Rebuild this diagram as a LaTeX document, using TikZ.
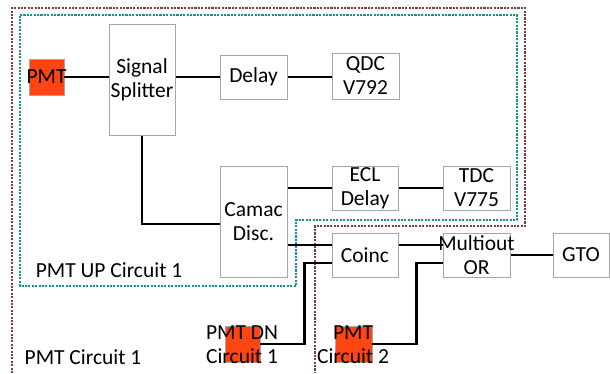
\documentclass[tikz,border=0pt]{standalone}
\usepackage{fontspec}
\setmainfont{Carlito}
\usepackage{tikz}
\usetikzlibrary{positioning, calc}
\usepackage{xcolor}
\definecolor{circuitMaroon}{HTML}{7A3E3E}
\definecolor{circuitTeal}{HTML}{169090}
\definecolor{pmtOrange}{HTML}{FF4511}
\definecolor{boxGray}{HTML}{A6A6A6}

\begin{document}
\begin{tikzpicture}[x=1pt, y=-1pt,
  font=\fontsize{21.5}{24}\selectfont,
  modbox/.style={draw=boxGray, line width=1pt, fill=white, inner sep=0pt, align=center},
  pmtbox/.style={draw=boxGray, line width=0.6pt, fill=pmtOrange, inner sep=0pt,
    minimum width=35pt, minimum height=36pt},
  wire/.style={line width=2.6pt},
  zone/.style={line width=2.4pt, dash pattern=on 2.1pt off 1.3pt}]
\useasboundingbox (0,0) rectangle (610,373);
% circuit outlines
\draw[zone, circuitMaroon] (12,373) -- (12,8) -- (525,8) -- (525,226) -- (315,226) -- (315,373);
\draw[zone, circuitTeal] (20,15) -- (517,15) -- (517,220) -- (296,220) -- (296,286) -- (20,286) -- cycle;
\node (uplbl) at (109,270) {PMT UP Circuit 1};
\node (pmtlbl) at (83,357) {PMT Circuit 1};
% modules
\node[pmtbox] (pmt) at (46.5,77) {};
\node at (pmt) {PMT};
\node[modbox, minimum width=66pt, minimum height=111pt] (splitter) at (142,79.5) {Signal\\Splitter};
\node[modbox, minimum width=67pt, minimum height=44pt] (delay) at (253.5,77) {Delay};
\node[modbox, minimum width=67pt, minimum height=46pt] (qdc) at (365.5,76) {QDC\\V792};
\node[modbox, minimum width=67pt, minimum height=111pt] (camac) at (253.5,221.5) {Camac\\Disc.};
\node[modbox, minimum width=66pt, minimum height=44pt] (ecl) at (365,188) {ECL\\Delay};
\node[modbox, minimum width=67pt, minimum height=44pt] (tdc) at (476.5,188) {TDC\\V775};
\node[modbox, minimum width=66pt, minimum height=44pt] (coinc) at (365,255) {Coinc};
\node[modbox, minimum width=67pt, minimum height=44pt] (multi) at (476.5,255) {};
\node[modbox, minimum width=56pt, minimum height=44pt] (gto) at (581,255) {GTO};
\node[pmtbox] (pmtdn) at (242.5,344) {};
\node[pmtbox, minimum width=37pt] (pmttwo) at (353.5,344) {};
% connections
\draw[wire] (pmt.east) -- (pmt.east -| splitter.west);
\draw[wire] (splitter.east |- delay.west) -- (delay.west);
\draw[wire] (delay.east) -- (delay.east -| qdc.west);
\draw[wire] (splitter.south) |- ([yshift=-2.5pt]camac.west);
\draw[wire] (camac.east |- ecl.west) -- (ecl.west);
\draw[wire] (ecl) -- (tdc);
\coordinate (coincin) at ([yshift=10pt]coinc.west);
\draw[wire] (camac.east |- coincin) -- (coincin);
\draw[wire] ([yshift=10pt]coinc.east) -- ([yshift=10pt]multi.west);
\draw[wire] (pmtdn.east) -- ++(44,0) |- ([yshift=-8pt]coinc.west);
\draw[wire] (pmttwo.east) -- ++(44,0) |- ([yshift=-8pt]multi.west);
\draw[wire] (multi) -- (gto);
\node[align=center] (multilbl) at (multi) {Multiout\\OR};
\node[align=center] (pmtdnlbl) at (242,345) {PMT DN\\Circuit 1};
\node[align=center] (pmttwolbl) at (353,345) {PMT\\Circuit 2};
\end{tikzpicture}
\end{document}
